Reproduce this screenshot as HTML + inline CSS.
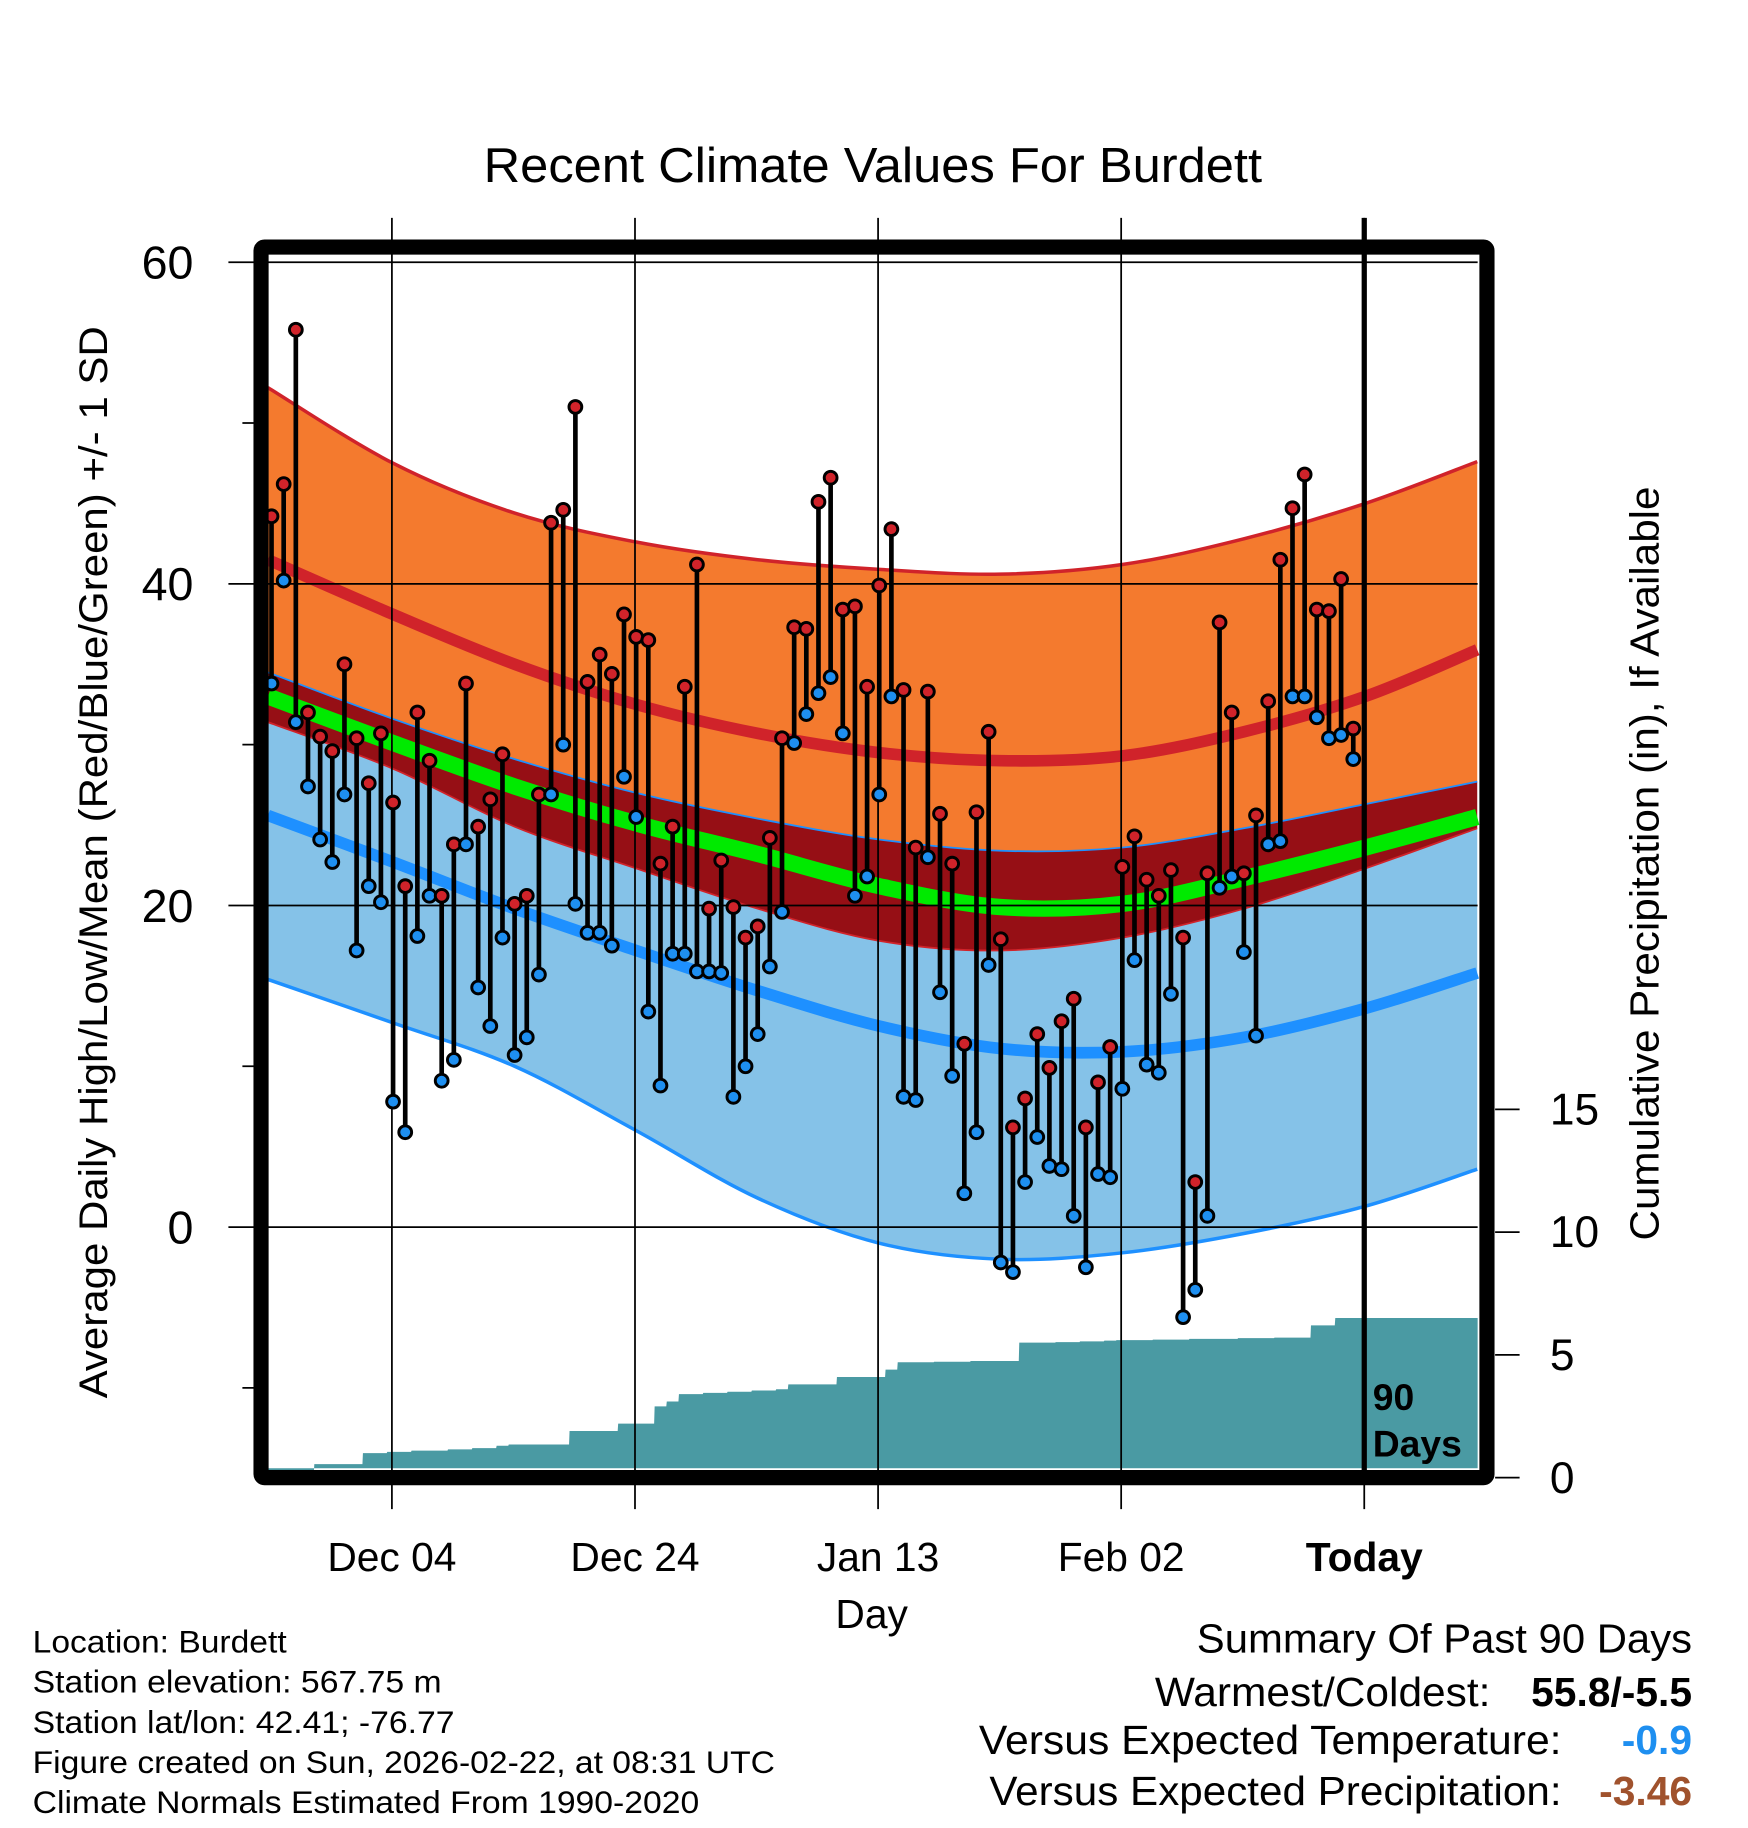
<!DOCTYPE html>
<html><head><meta charset="utf-8"><style>
html,body{margin:0;padding:0;background:#fff}
svg{display:block;font-family:"Liberation Sans",sans-serif}
</style></head><body>
<svg id="chart" xmlns="http://www.w3.org/2000/svg" width="1748" height="1828" viewBox="0 0 1500 1568.66">
<rect width="1500" height="1568.66" fill="#fff"/>
<g id="bands"></g>
<g id="precip"></g>
<g id="grid"></g>
<g id="obs"></g>
<g id="frame"></g>
<g id="labels"></g>
</svg>
<script>
// ---- data ----
const highs=[44.2,46.2,55.8,32.0,30.5,29.6,35.0,30.4,27.6,30.7,26.4,21.2,32.0,29.0,20.6,23.8,33.8,24.9,26.6,29.4,20.1,20.6,26.9,43.8,44.6,51.0,33.9,35.6,34.4,38.1,36.7,36.5,22.6,24.9,33.6,41.2,19.8,22.8,19.9,18.0,18.7,24.2,30.4,37.3,37.2,45.1,46.6,38.4,38.6,33.6,39.9,43.4,33.4,23.6,33.3,25.7,22.6,11.4,25.8,30.8,17.9,6.2,8.0,12.0,9.9,12.8,14.2,6.2,9.0,11.2,22.4,24.3,21.6,20.6,22.2,18.0,2.8,22.0,37.6,32.0,22.0,25.6,32.7,41.5,44.7,46.8,38.4,38.3,40.3,31.0];
const lows=[33.8,40.2,31.4,27.4,24.1,22.7,26.9,17.2,21.2,20.2,7.8,5.9,18.1,20.6,9.1,10.4,23.8,14.9,12.5,18.0,10.7,11.8,15.7,26.9,30.0,20.1,18.3,18.3,17.5,28.0,25.5,13.4,8.8,17.0,17.0,15.9,15.9,15.8,8.1,10.0,12.0,16.2,19.6,30.1,31.9,33.2,34.2,30.7,20.6,21.8,26.9,33.0,8.1,7.9,23.0,14.6,9.4,2.1,5.9,16.3,-2.2,-2.8,2.8,5.6,3.8,3.6,0.7,-2.5,3.3,3.1,8.6,16.6,10.1,9.6,14.5,-5.6,-3.9,0.7,21.1,21.8,17.1,11.9,23.8,24.0,33.0,33.0,31.7,30.4,30.6,29.1];
const precipCum=[0,0,0.05,0.2,0.55,0.55,0.55,0.55,1.0,1.0,1.05,1.05,1.1,1.1,1.1,1.15,1.15,1.2,1.2,1.3,1.35,1.35,1.35,1.35,1.35,1.9,1.9,1.9,1.9,2.2,2.2,2.2,2.9,3.1,3.4,3.4,3.45,3.45,3.5,3.5,3.55,3.55,3.6,3.8,3.8,3.8,3.8,4.1,4.1,4.1,4.1,4.4,4.7,4.7,4.7,4.72,4.72,4.72,4.75,4.75,4.75,4.75,5.5,5.5,5.5,5.52,5.52,5.55,5.55,5.58,5.6,5.6,5.6,5.62,5.62,5.62,5.65,5.65,5.65,5.65,5.68,5.68,5.68,5.7,5.7,5.7,6.2,6.2,6.5,6.5];
const normDays=[-0.3,10,20,30,40,50,60,70,80,90,99.2];
const hiPlusSD=[52.2,47.5,44.4,42.6,41.5,40.9,40.6,41.2,42.8,45.0,47.6];
const hiMean=[41.5,38.1,35.0,32.5,30.7,29.5,29.0,29.3,30.8,33.0,35.9];
const hiMinusSD=[34.5,31.6,29.1,27.0,25.4,24.1,23.4,23.6,24.8,26.3,27.7];
const meanT=[33.0,30.1,27.4,25.1,23.2,21.2,19.9,20.1,21.7,23.6,25.5];
const loPlusSD=[31.4,28.5,24.9,22.3,19.8,17.8,17.2,18.0,19.8,22.3,24.8];
const loMean=[25.6,22.7,19.8,17.2,14.7,12.5,11.1,10.9,11.8,13.6,15.8];
const loMinusSD=[15.4,12.7,10.0,6.0,1.8,-1.0,-2.0,-1.6,-0.4,1.3,3.6];
const yTicks=[0,20,40,60];
const yMinor=[-10,10,30,50];
const pTicks=[0,5,10,15];
const xTickDays=[10,30,50,70,90];
const xTickLabels=["Dec 04","Dec 24","Jan 13","Feb 02","Today"];

// ---- axes ----
const L=230,R=1268,T=218,B=1260;
const X=d=>233+d*10.43;
const Y=v=>1053-v*13.8;
const P=v=>1268-v*21.07;
const NS="http://www.w3.org/2000/svg";
function mk(tag,attrs,parent){const e=document.createElementNS(NS,tag);for(const k in attrs)e.setAttribute(k,attrs[k]);parent.appendChild(e);return e;}
function seg(pts){let s="";
 for(let i=0;i<pts.length-1;i++){const p0=pts[Math.max(0,i-1)],p1=pts[i],p2=pts[i+1],p3=pts[Math.min(pts.length-1,i+2)];
 s+=" C"+(p1[0]+(p2[0]-p0[0])/6)+","+(p1[1]+(p2[1]-p0[1])/6)+" "+(p2[0]-(p3[0]-p1[0])/6)+","+(p2[1]-(p3[1]-p1[1])/6)+" "+p2[0]+","+p2[1];}
 return s;}
function curve(ys){const pts=normDays.map((d,i)=>[X(d),Y(ys[i])]);return "M"+pts[0][0]+","+pts[0][1]+seg(pts);}
function band(top,bot,fill,name){const rd=normDays.slice().reverse();
 const pts=rd.map((d,i)=>[X(d),Y(bot[bot.length-1-i])]);
 const s=curve(top)+" L"+pts[0][0]+","+pts[0][1]+seg(pts);
 const e=mk("path",{d:s+"Z",fill:fill},document.getElementById("bands"));
 
 }
const gB=document.getElementById("bands");
band(hiPlusSD,hiMinusSD,"#f47a2e","high-sd-band");
band(hiMinusSD,loPlusSD,"#960f15","overlap-band");
band(loPlusSD,loMinusSD,"#85c2e8","low-sd-band");
function line(ys,col,w,name){const e=mk("path",{d:curve(ys),fill:"none",stroke:col,"stroke-width":w},gB);
 
 }
line(hiPlusSD,"#d0232a",3,"high-plus-sd-line");
line(hiMean,"#d0232a",10,"mean-high-line");
line(hiMinusSD,"#1e90ff",1.5,"high-minus-sd-line");
line(meanT,"#00ea00",14,"mean-temp-line");
line(loPlusSD,"#d0232a",1.5,"low-plus-sd-line");
line(loMean,"#1e90ff",10,"mean-low-line");
line(loMinusSD,"#1e90ff",3,"low-minus-sd-line");

// precip area
(function(){let s="M"+L+","+B;precipCum.forEach((v,i)=>{s+=" L"+(X(i)-5)+","+P(v)+" L"+(X(i)+5)+","+P(v);});
 s+=" L"+R+","+P(precipCum[precipCum.length-1])+" L"+R+","+B+"Z";
 const e=mk("path",{d:s,fill:"#4a9aa3"},document.getElementById("precip"));
 
 })();

// grid
const gG=document.getElementById("grid");
yTicks.forEach(v=>{const e=mk("line",{x1:196,x2:R,y1:Y(v),y2:Y(v),stroke:"#000","stroke-width":1.5},gG);
 
 });
yMinor.forEach(v=>{const e=mk("line",{x1:208,x2:L,y1:Y(v),y2:Y(v),stroke:"#000","stroke-width":1.5},gG);
 
 });
xTickDays.forEach((d,i)=>{const last=i===xTickDays.length-1;
 const e=mk("line",{x1:X(d)-1,x2:X(d)-1,y1:187,y2:1295,stroke:"#000","stroke-width":1.5},gG);
 
 
 if(last){const t=mk("line",{x1:X(d)-1,x2:X(d)-1,y1:187,y2:1268,stroke:"#000","stroke-width":4.5},gG);
 
 }});
pTicks.forEach(v=>{const e=mk("line",{x1:1283,x2:1304,y1:P(v),y2:P(v),stroke:"#000","stroke-width":1.5},gG);
 
 });

// observations
const gO=document.getElementById("obs");
highs.forEach((h,i)=>{const x=X(i);
 const st=mk("line",{x1:x,x2:x,y1:Y(h),y2:Y(lows[i]),stroke:"#000","stroke-width":4},gO);
 
 });
highs.forEach((h,i)=>{const x=X(i);
 const c1=mk("circle",{cx:x,cy:Y(lows[i]),r:5.5,fill:"#1e8ff0",stroke:"#000","stroke-width":2.5},gO);
 
 
 const c2=mk("circle",{cx:x,cy:Y(h),r:5.5,fill:"#d0232a",stroke:"#000","stroke-width":2.5},gO);
 
 });

// frame
const fr=mk("rect",{x:224,y:212,width:1052,height:1056,fill:"none",stroke:"#000","stroke-width":13,rx:3},document.getElementById("frame"));



// labels
const gL=document.getElementById("labels");
function txt(s,attrs,name){const e=mk("text",attrs,gL);e.textContent=s;
 
 return e;}
txt("Recent Climate Values For Burdett",{x:749,y:156,"font-size":42,"text-anchor":"middle",textLength:668,lengthAdjust:"spacingAndGlyphs"},"chart-title");
yTicks.forEach(v=>txt(String(v),{x:166,y:Y(v)+14,"font-size":40,"text-anchor":"end"},"y-tick-label"));
pTicks.forEach(v=>txt(String(v),{x:1330,y:P(v)+13,"font-size":38},"precip-tick-label"));
xTickDays.forEach((d,i)=>txt(xTickLabels[i],{x:X(d)-1,y:1348,"font-size":35,"text-anchor":"middle","font-weight":i===4?"bold":"normal"},"x-tick-label"));
txt("Day",{x:748,y:1397,"font-size":35,"text-anchor":"middle"},"x-axis-title");
txt("Average Daily High/Low/Mean (Red/Blue/Green) +/- 1 SD",{transform:"translate(92,740) rotate(-90)","font-size":34,"text-anchor":"middle",textLength:920,lengthAdjust:"spacingAndGlyphs"},"y-axis-title");
txt("Cumulative Precipitation (in), If Available",{transform:"translate(1423,741) rotate(-90)","font-size":35,"text-anchor":"middle",textLength:647,lengthAdjust:"spacingAndGlyphs"},"precip-axis-title");
txt("90",{x:1178,y:1210,"font-size":32,"font-weight":"bold"},"days-label");
txt("Days",{x:1178,y:1250,"font-size":32,"font-weight":"bold"},"days-label");
const info=["Location: Burdett","Station elevation: 567.75 m","Station lat/lon: 42.41; -76.77","Figure created on Sun, 2026-02-22, at 08:31 UTC","Climate Normals Estimated From 1990-2020"];
const infoW=[218,351,362,637,572];
info.forEach((s,i)=>txt(s,{x:28,y:1418+i*34.5,"font-size":27,textLength:infoW[i],lengthAdjust:"spacingAndGlyphs"},"station-info"));
txt("Summary Of Past 90 Days",{x:1452,y:1418,"font-size":35,"text-anchor":"end",textLength:425,lengthAdjust:"spacingAndGlyphs"},"summary-title");
txt("Warmest/Coldest:",{x:1279,y:1464,"font-size":35,"text-anchor":"end",textLength:288,lengthAdjust:"spacingAndGlyphs"},"warmest-coldest-label");
txt("55.8/-5.5",{x:1452,y:1464,"font-size":35,"text-anchor":"end","font-weight":"bold"},"warmest-coldest-value");
txt("Versus Expected Temperature:",{x:1340,y:1505,"font-size":35,"text-anchor":"end",textLength:500,lengthAdjust:"spacingAndGlyphs"},"temp-anomaly-label");
txt("-0.9",{x:1452,y:1505,"font-size":35,"text-anchor":"end","font-weight":"bold",fill:"#1e8ff0"},"temp-anomaly-value");
txt("Versus Expected Precipitation:",{x:1340,y:1549,"font-size":35,"text-anchor":"end",textLength:491,lengthAdjust:"spacingAndGlyphs"},"precip-anomaly-label");
txt("-3.46",{x:1452,y:1549,"font-size":35,"text-anchor":"end","font-weight":"bold",fill:"#a0522d"},"precip-anomaly-value");
</script>
</body></html>
